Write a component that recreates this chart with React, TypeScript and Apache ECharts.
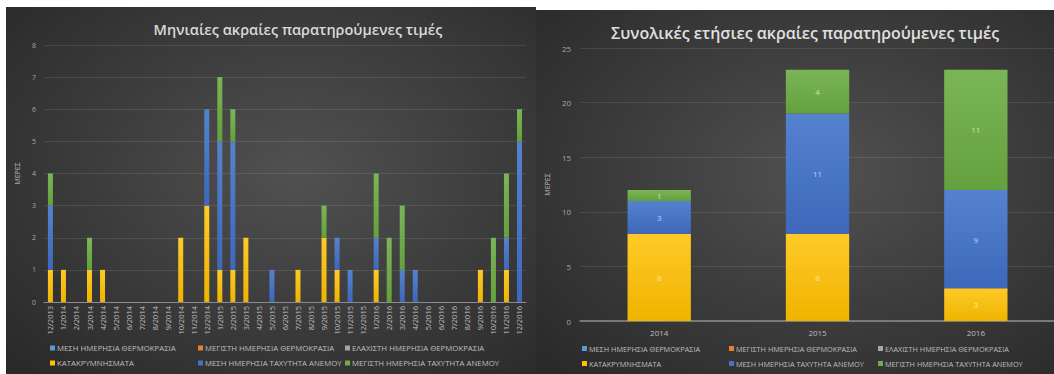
import React, { useEffect, useRef } from "react";
import * as echarts from "echarts";

const months = [
  "12/2013", "1/2014", "2/2014", "3/2014", "4/2014", "5/2014", "6/2014", "7/2014", "8/2014", "9/2014", "10/2014", "11/2014",
  "12/2014", "1/2015", "2/2015", "3/2015", "4/2015", "5/2015", "6/2015", "7/2015", "8/2015", "9/2015", "10/2015", "11/2015",
  "12/2015", "1/2016", "2/2016", "3/2016", "4/2016", "5/2016", "6/2016", "7/2016", "8/2016", "9/2016", "10/2016", "11/2016",
  "12/2016",
];
const monthlyPrecip = [1, 1, 0, 1, 1, 0, 0, 0, 0, 0, 2, 0, 3, 1, 1, 2, 0, 0, 0, 1, 0, 2, 1, 0, 0, 1, 0, 0, 0, 0, 0, 0, 0, 1, 0, 1, 0];
const monthlyWindMean = [2, 0, 0, 0, 0, 0, 0, 0, 0, 0, 0, 0, 3, 4, 4, 0, 0, 1, 0, 0, 0, 0, 1, 1, 0, 1, 0, 1, 1, 0, 0, 0, 0, 0, 0, 1, 5];
const monthlyWindMax = [1, 0, 0, 1, 0, 0, 0, 0, 0, 0, 0, 0, 0, 2, 1, 0, 0, 0, 0, 0, 0, 1, 0, 0, 0, 2, 2, 2, 0, 0, 0, 0, 0, 0, 2, 2, 1];

const years = ["2014", "2015", "2016"];
const yearlyPrecip = [8, 8, 3];
const yearlyWindMean = [3, 11, 9];
const yearlyWindMax = [1, 4, 11];

const emptyTempMean: number[] = [];
const emptyTempMax: number[] = [];
const emptyTempMin: number[] = [];

const seriesNames = [
  "ΜΕΣΗ ΗΜΕΡΗΣΙΑ ΘΕΡΜΟΚΡΑΣΙΑ",
  "ΜΕΓΙΣΤΗ ΗΜΕΡΗΣΙΑ ΘΕΡΜΟΚΡΑΣΙΑ",
  "ΕΛΑΧΙΣΤΗ ΗΜΕΡΗΣΙΑ ΘΕΡΜΟΚΡΑΣΙΑ",
  "ΚΑΤΑΚΡΥΜΝΗΣΜΑΤΑ",
  "ΜΕΣΗ ΗΜΕΡΗΣΙΑ ΤΑΧΥΤΗΤΑ ΑΝΕΜΟΥ",
  "ΜΕΓΙΣΤΗ ΗΜΕΡΗΣΙΑ ΤΑΧΥΤΗΤΑ ΑΝΕΜΟΥ",
];
const legendColors = ["#5b9bd5", "#ed7d31", "#a5a5a5", "#ffc000", "#4472c4", "#70ad47"];
const gradTop = ["#5b9bd5", "#ed7d31", "#a5a5a5", "#ffca28", "#5582cf", "#7ab655"];
const gradBottom = ["#5b9bd5", "#ed7d31", "#a5a5a5", "#efb400", "#3d68bb", "#64a03e"];

const FONT = "'Open Sans', 'Noto Sans', sans-serif";

function makeSeries(data: number[][], barWidth: number | string, withLabels: boolean) {
  return data.map((d, i) => ({
    name: seriesNames[i],
    type: "bar",
    stack: "total",
    barWidth,
    data: d,
    itemStyle: {
      color: new echarts.graphic.LinearGradient(0, 0, 0, 1, [
        { offset: 0, color: gradTop[i] },
        { offset: 1, color: gradBottom[i] },
      ]),
    },
    label: withLabels
      ? {
          show: true,
          position: "inside",
          color: "rgba(255,255,255,0.65)",
          fontSize: 8,
          fontFamily: FONT,
          formatter: (p: any) => (p.value ? String(p.value) : ""),
        }
      : { show: false },
  }));
}

function makeLegends(cols: number[], rows: number[], fontSize: number) {
  return seriesNames.map((name, i) => ({
    data: [{ name, itemStyle: { color: legendColors[i] } }],
    left: cols[i % 3],
    top: rows[Math.floor(i / 3)],
    itemWidth: 5,
    itemHeight: 5,
    itemGap: 0,
    padding: 0,
    icon: "rect",
    selectedMode: false,
    textStyle: { color: "#bfbfbf", fontSize, fontFamily: FONT, padding: [0, 0, 0, -3] },
  }));
}

function leftOption() {
  return {
    animation: false,
    backgroundColor: "transparent",
    title: {
      text: "Μηνιαίες ακραίες παρατηρούμενες τιμές",
      left: 287,
      textAlign: "center",
      top: 10,
      textStyle: { color: "#d9d9d9", fontSize: 14.5, fontWeight: 600, fontFamily: FONT },
    },
    legend: makeLegends([44, 192, 339], [337, 352], 7.8),
    grid: { left: 36, right: 10, top: 38, bottom: 72 },
    xAxis: {
      type: "category",
      data: months,
      axisLine: { show: true, lineStyle: { color: "#8c8c8c", width: 1 } },
      axisTick: { show: false },
      axisLabel: { rotate: 90, color: "#bfbfbf", fontSize: 7.5, fontFamily: FONT, margin: 4, interval: 0 },
    },
    yAxis: {
      type: "value",
      min: 0,
      max: 8,
      interval: 1,
      name: "ΜΕΡΕΣ",
      nameLocation: "middle",
      nameGap: 13,
      nameTextStyle: { color: "#bfbfbf", fontSize: 7, fontFamily: FONT },
      axisLabel: { color: "#a6a6a6", fontSize: 7, fontFamily: FONT, margin: 8 },
      splitLine: { lineStyle: { color: "rgba(255,255,255,0.1)", width: 1 } },
      axisLine: { show: false },
      axisTick: { show: false },
    },
    series: makeSeries(
      [emptyTempMean, emptyTempMax, emptyTempMin, monthlyPrecip, monthlyWindMean, monthlyWindMax],
      5,
      false
    ),
  };
}

function rightOption() {
  return {
    animation: false,
    backgroundColor: "transparent",
    title: {
      text: "Συνολικές ετήσιες ακραίες παρατηρούμενες τιμές",
      left: 264,
      textAlign: "center",
      top: 10,
      textStyle: { color: "#e0e0e0", fontSize: 16, fontWeight: 600, fontFamily: FONT },
    },
    legend: makeLegends([46, 193, 342], [335, 350], 7.3),
    grid: { left: 40, right: 5, top: 38, bottom: 53 },
    xAxis: {
      type: "category",
      data: years,
      axisLine: { show: true, lineStyle: { color: "#8c8c8c", width: 1.5 } },
      axisTick: { show: false },
      axisLabel: { color: "#bfbfbf", fontSize: 8, fontFamily: FONT, margin: 7 },
    },
    yAxis: {
      type: "value",
      min: 0,
      max: 25,
      interval: 5,
      name: "ΜΕΡΕΣ",
      nameLocation: "middle",
      nameGap: 25,
      nameTextStyle: { color: "#bfbfbf", fontSize: 7, fontFamily: FONT },
      axisLabel: { color: "#a6a6a6", fontSize: 8, fontFamily: FONT, margin: 9 },
      splitLine: { lineStyle: { color: "rgba(255,255,255,0.1)", width: 1 } },
      axisLine: { show: false },
      axisTick: { show: false },
    },
    series: makeSeries(
      [emptyTempMean, emptyTempMax, emptyTempMin, yearlyPrecip, yearlyWindMean, yearlyWindMax],
      "40%",
      true
    ),
  };
}

function Chart({ option, style }: { option: any; style: React.CSSProperties }) {
  const ref = useRef<HTMLDivElement>(null);
  useEffect(() => {
    if (!ref.current) return;
    const chart = echarts.init(ref.current, undefined, { renderer: "svg" });
    chart.setOption(option);
    return () => chart.dispose();
  }, [option]);
  return <div ref={ref} style={style} />;
}

const leftOpt = leftOption();
const rightOpt = rightOption();

const bg = "radial-gradient(ellipse at 55% 45%, #515151 0%, #3e3e3e 45%, #282828 100%)";

export default function App() {
  return (
    <div
      style={{
        position: "fixed",
        left: 0,
        top: 0,
        width: 1054,
        height: 374,
        background: "#ffffff",
        overflow: "hidden",
      }}
    >
      <Chart
        option={leftOpt}
        style={{ position: "absolute", left: 6, top: 7, width: 530, height: 367, background: bg }}
      />
      <Chart
        option={rightOpt}
        style={{ position: "absolute", left: 536, top: 10, width: 524, height: 364, background: bg }}
      />
    </div>
  );
}
